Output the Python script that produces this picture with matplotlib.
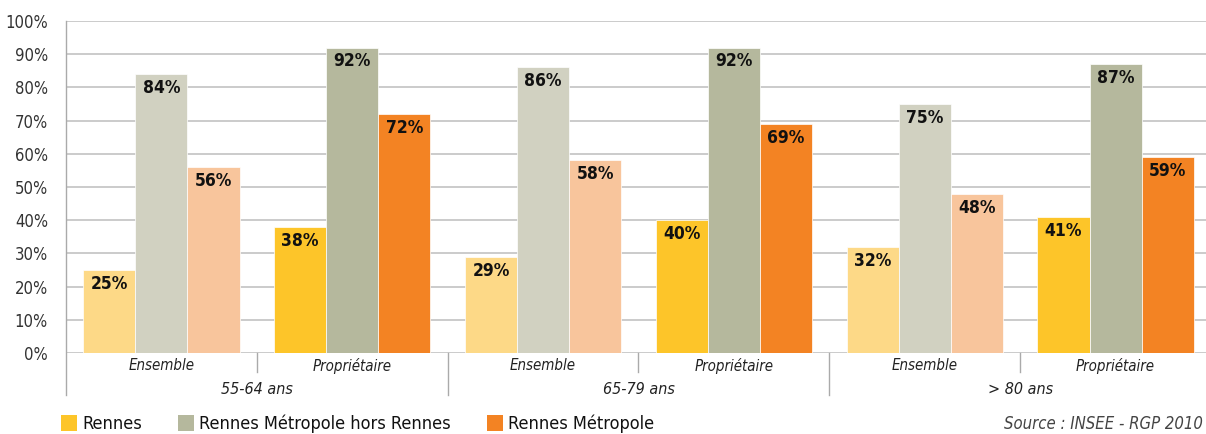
import matplotlib
matplotlib.use("Agg")
import matplotlib.pyplot as plt
from matplotlib.transforms import blended_transform_factory
from matplotlib.patches import Patch

# ---- data ----
series = ["Rennes", "Rennes Métropole hors Rennes", "Rennes Métropole"]
categories = ["Ensemble", "Propriétaire", "Ensemble", "Propriétaire", "Ensemble", "Propriétaire"]
age_groups = ["55-64 ans", "65-79 ans", "> 80 ans"]
rennes = [25, 38, 29, 40, 32, 41]
hors_rennes = [84, 92, 86, 92, 75, 87]
metropole = [56, 72, 58, 69, 48, 59]
yticks = [0, 10, 20, 30, 40, 50, 60, 70, 80, 90, 100]
source = "Source : INSEE - RGP 2010"

# ---- style ----
light_cols = ["#FDD987", "#D1D1C1", "#F8C59C"]
dark_cols = ["#FDC529", "#B5B89D", "#F38323"]
plt.rcParams['font.family'] = ["DejaVu Sans"]
plt.rcParams['font.stretch'] = "condensed"

W, H = 1206, 434
fig = plt.figure(figsize=(W / 100, H / 100), dpi=100)
ax = fig.add_axes([66 / W, 81 / H, (1211 - 66) / W, 332 / H])

values = [rennes, hors_rennes, metropole]
bw = 0.273
x = list(range(len(categories)))
for si, vals in enumerate(values):
    off = (si - 1) * bw
    cols = [light_cols[si] if c == "Ensemble" else dark_cols[si] for c in categories]
    bars = ax.bar([xi + off for xi in x], vals, width=bw, color=cols,
                  edgecolor="white", linewidth=0.5, zorder=3)
    for b, v in zip(bars, vals):
        ax.annotate(f"{v}%", (b.get_x() + b.get_width() / 2, v), xytext=(0, -3.5),
                    textcoords="offset points", ha="center", va="top",
                    fontsize=12.5, fontweight="bold", color="#111111", zorder=4)

ax.set_xlim(-0.5, len(categories) - 0.5)
ax.set_ylim(0, 100)
ax.set_yticks(yticks)
ax.set_yticklabels([f"{t}%" for t in yticks])
ax.tick_params(axis="y", length=0, pad=13, labelsize=12, labelcolor="#333333")
ax.set_xticks([])
ax.grid(axis="y", color="#BDBDBD", linewidth=1.1, zorder=0)
for s in ["top", "right", "bottom", "left"]:
    ax.spines[s].set_visible(False)

# multi-level x axis
tr = blended_transform_factory(ax.transData, ax.transAxes)
px = 1 / 332.0
ax.plot([-0.5, -0.5], [1, -42 * px], transform=tr, color="#AAAAAA", lw=1.0, clip_on=False, zorder=2)
for i, c in enumerate(categories):
    ax.text(i, -13 * px, c, transform=tr, ha="center", va="center",
            fontsize=10.8, style="italic", color="#222222")
for i in range(len(categories)):
    xb = i + 0.5
    long = (i % 2 == 1)
    ax.plot([xb, xb], [0, (-42 if long else -19) * px], transform=tr,
            color="#AAAAAA", lw=1.0, clip_on=False)
for g, name in enumerate(age_groups):
    ax.text(2 * g + 0.5, -37 * px, name, transform=tr, ha="center", va="center",
            fontsize=11.5, style="italic", color="#222222")

# legend
handles = [Patch(facecolor=c, edgecolor="none") for c in dark_cols]
fig.legend(handles, series, loc="center left", bbox_to_anchor=(61 / W, 1 - 424 / H),
           ncol=3, frameon=False, fontsize=13, handlelength=0.89, handleheight=1.0,
           handletextpad=0.28, columnspacing=2.0, borderaxespad=0, borderpad=0,
           labelcolor="#111111")

fig.text(1203 / W, 1 - 424 / H, source, ha="right", va="center", fontsize=12,
         style="italic", color="#444444")

fig.savefig("out.png", dpi=100)
